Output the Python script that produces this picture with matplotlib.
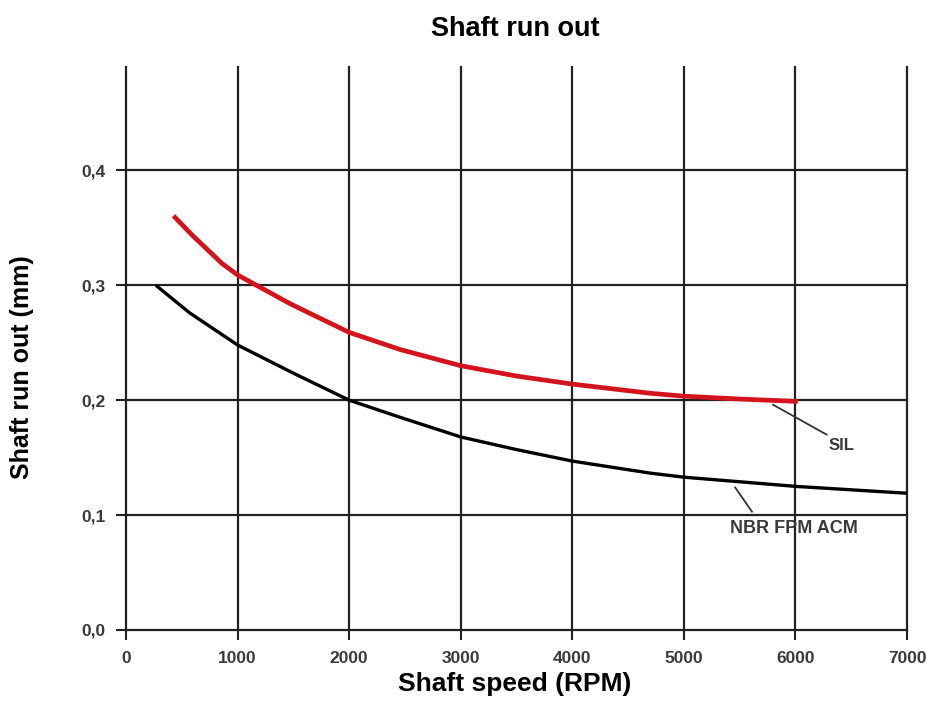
import matplotlib.pyplot as plt
from matplotlib.ticker import FuncFormatter

# values
sil_rpm = [440, 600, 730, 860, 1000, 1470, 2000, 2460, 3000, 3500, 4000, 4700, 5000, 5500, 6000]
sil_runout = [0.359, 0.343, 0.331, 0.319, 0.309, 0.284, 0.259, 0.244, 0.230, 0.221, 0.214, 0.206, 0.2035, 0.201, 0.199]

nbr_rpm = [280, 570, 1000, 1500, 2000, 2460, 3000, 3500, 4000, 4700, 5000, 6000, 7000]
nbr_runout = [0.299, 0.276, 0.248, 0.2235, 0.200, 0.185, 0.168, 0.157, 0.147, 0.1365, 0.133, 0.125, 0.119]

x_ticks = [0, 1000, 2000, 3000, 4000, 5000, 6000, 7000]
y_ticks = [0.0, 0.1, 0.2, 0.3, 0.4]

plt.rcParams['font.family'] = ['Liberation Sans', 'DejaVu Sans']

fig = plt.figure(figsize=(9.28, 7.2), dpi=100)
ax = fig.add_axes([0.1358, 0.125, 0.9774 - 0.1358, 0.782])

ax.set_xlim(0, 7000)
ax.set_ylim(0, 0.49)

for s in ax.spines.values():
    s.set_visible(False)

ax.set_xticks(x_ticks)
ax.set_yticks(y_ticks)
ax.yaxis.set_major_formatter(FuncFormatter(lambda v, p: f"{v:.1f}".replace('.', ',')))
ax.tick_params(axis='both', direction='out', length=7, width=1.5, color='#222222',
               labelsize=12.5, labelcolor='#3a3a3a', pad=8)
for lab in ax.get_xticklabels() + ax.get_yticklabels():
    lab.set_fontweight('bold')

ax.grid(True, color='#222222', linewidth=1.6)
for gl in ax.get_xgridlines() + ax.get_ygridlines():
    gl.set_clip_on(False)
ax.set_axisbelow(True)

ax.plot(nbr_rpm, nbr_runout, color='black', linewidth=2.4, zorder=3,
        solid_joinstyle='round')
ax.plot(sil_rpm, sil_runout, color='#d4141c', linewidth=3.4, zorder=4,
        solid_joinstyle='round')

# leader lines and curve labels
ax.plot([5800, 6280], [0.196, 0.170], color='#333333', lw=1.3)
ax.text(6300, 0.161, 'SIL', fontsize=12, fontweight='bold', color='#3a3a3a',
        ha='left', va='center')
ax.plot([5460, 5610], [0.124, 0.103], color='#333333', lw=1.3)
ax.text(5990, 0.0885, 'NBR FPM ACM', fontsize=13, fontweight='bold', color='#3a3a3a',
        ha='center', va='center')

fig.text(0.555, 0.96, 'Shaft run out', ha='center', va='center', fontsize=19.5, fontweight='bold')
fig.text(0.555, 0.05, 'Shaft speed (RPM)', ha='center', va='center', fontsize=19, fontweight='bold')
fig.text(0.024, 0.49, 'Shaft run out (mm)', ha='center', va='center', rotation=90,
         fontsize=18, fontweight='bold')

fig.savefig('out.png', dpi=100, facecolor='white')
